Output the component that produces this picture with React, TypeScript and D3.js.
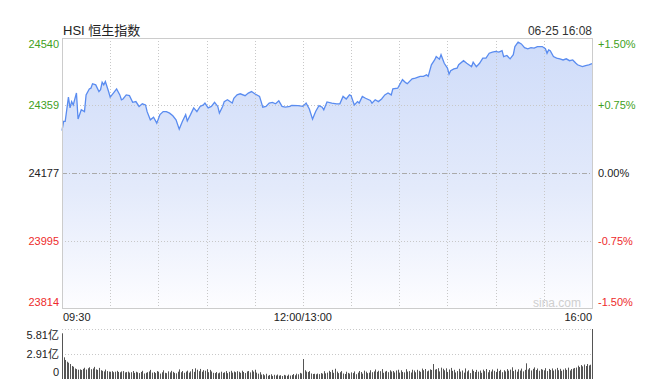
import React from "react";
import * as d3 from "d3";

// ---- data ----
const title = "HSI 恒生指数";
const stamp = "06-25 16:08";
const priceTicks = [24540, 24359, 24177, 23995, 23814];
const priceTickLabels = ["24540", "24359", "24177", "23995", "23814"];
const pctTickLabels = ["+1.50%", "+0.75%", "0.00%", "-0.75%", "-1.50%"];
const prevClose = 24177;
const timeTicks = [0, 150, 330];
const timeTickLabels = ["09:30", "12:00/13:00", "16:00"];
const gridMinutes = [30, 60, 90, 120, 150, 180, 210, 240, 270, 300];
const volTicks = [5.81, 2.91, 0];
const volTickLabels = ["5.81亿", "2.91亿", "0"];

// minutes since 09:30 (trading time, lunch removed)
const times = [
  0, 1, 2, 4, 5, 6, 7, 9, 10, 12,
  14, 15, 17, 18, 19, 21, 23, 24, 25, 26,
  27, 29, 30, 32, 34, 36, 37, 38, 40, 42,
  44, 46, 48, 50, 52, 53, 55, 57, 59, 61,
  63, 65, 67, 69, 71, 73, 75, 77, 78, 80,
  82, 84, 86, 88, 89, 91, 93, 95, 97, 98,
  100, 101, 103, 106, 107, 109, 111, 114, 116, 118,
  120, 123, 124, 125, 127, 129, 131, 133, 135, 137,
  139, 142, 143, 147, 150, 152, 154, 156, 158, 160,
  162, 163, 165, 168, 171, 173, 175, 177, 179, 180,
  182, 184, 185, 187, 189, 192, 193, 195, 197, 199,
  201, 203, 205, 206, 209, 212, 214, 215, 218, 220,
  223, 225, 227, 228, 230, 232, 233, 235, 236, 238,
  240, 241, 242, 244, 246, 247, 250, 252, 254, 255,
  256, 258, 260, 262, 264, 266, 268, 270, 272, 274,
  275, 277, 279, 281, 282, 284, 286, 288, 290, 292,
  294, 296, 299, 301, 302, 303, 304, 306, 308, 310,
  312, 314, 316, 318, 320, 321, 324, 326, 328, 330,
];
const prices = [
  24291, 24316, 24316, 24381, 24352, 24369, 24360, 24392, 24322, 24347,
  24342, 24387, 24403, 24405, 24417, 24414, 24396, 24401, 24421, 24414,
  24423, 24396, 24381, 24392, 24403, 24387, 24374, 24376, 24387, 24385,
  24367, 24369, 24356, 24363, 24360, 24342, 24320, 24327, 24311, 24334,
  24342, 24342, 24338, 24331, 24320, 24295, 24316, 24334, 24317, 24334,
  24352, 24342, 24356, 24360, 24365, 24352, 24356, 24367, 24356, 24338,
  24356, 24369, 24374, 24365, 24378, 24387, 24390, 24385, 24392, 24396,
  24390, 24383, 24369, 24354, 24356, 24365, 24367, 24363, 24371, 24356,
  24354, 24356, 24359, 24358, 24356, 24365, 24349, 24322, 24343, 24358,
  24354, 24347, 24368, 24365, 24363, 24363, 24383, 24376, 24387, 24385,
  24360, 24369, 24365, 24383, 24378, 24372, 24365, 24374, 24369, 24376,
  24387, 24392, 24387, 24403, 24405, 24428, 24420, 24417, 24430, 24432,
  24437, 24437, 24441, 24437, 24468, 24481, 24490, 24483, 24495, 24472,
  24459, 24443, 24452, 24457, 24459, 24468, 24479, 24472, 24466, 24463,
  24475, 24463, 24472, 24486, 24486, 24499, 24502, 24504, 24502, 24506,
  24490, 24493, 24484, 24495, 24517, 24529, 24524, 24514, 24511, 24514,
  24513, 24517, 24517, 24511, 24499, 24508, 24506, 24490, 24486, 24484,
  24481, 24484, 24479, 24481, 24472, 24468, 24463, 24466, 24468, 24471,
];

// volume per minute (亿), minute 0..330
const volumes = [
  5.31, 2.52, 2.21, 2.01, 1.89, 1.74, 1.51, 1.43, 1.22, 1.15,
  1.08, 1.12, 1.05, 1.18, 1.31, 1.10, 1.25, 1.36, 1.14, 1.22,
  1.41, 1.12, 1.06, 1.29, 1.02, 0.95, 0.88, 1.10, 0.92, 0.86,
  0.84, 0.91, 0.79, 0.85, 0.95, 0.82, 0.78, 0.88, 0.92, 0.76,
  0.81, 0.86, 0.74, 0.79, 0.93, 0.71, 0.84, 0.77, 0.69, 0.82,
  0.95, 0.64, 0.72, 0.79, 0.88, 1.06, 0.74, 0.81, 0.69, 0.92,
  0.85, 0.63, 0.78, 1.01, 0.72, 0.68, 0.89, 0.77, 0.95, 0.83,
  0.71, 0.66, 0.85, 1.12, 0.79, 0.93, 0.72, 0.86, 0.97, 0.74,
  0.89, 1.15, 0.83, 1.24, 1.08, 0.91, 1.17, 0.85, 1.03, 0.96,
  1.14, 0.79, 1.06, 0.88, 0.72, 0.69, 0.81, 0.66, 0.74, 0.85,
  0.71, 0.78, 0.92, 0.68, 0.83, 0.95, 0.74, 0.87, 0.79, 0.91,
  0.84, 0.72, 0.96, 0.81, 0.69, 0.88, 0.93, 0.77, 1.02, 0.86,
  1.08, 0.74, 0.62, 0.79, 0.51, 0.56, 0.43, 0.61, 0.38, 0.47,
  0.55, 0.36, 0.49, 0.41, 0.52, 0.39, 0.44, 0.35, 0.48, 0.42,
  0.37, 0.51, 0.40, 0.46, 0.58, 0.43, 0.62, 0.55, 0.71, 0.64,
  2.32, 1.02, 0.86, 0.81, 0.92, 0.64, 0.58, 0.61, 0.55, 0.63,
  0.57, 0.69, 0.62, 0.91, 0.66, 0.74, 0.95, 0.81, 1.06, 0.72,
  1.19, 0.86, 0.68, 0.79, 0.92, 0.64, 0.58, 0.85, 0.71, 0.63,
  0.77, 0.69, 0.88, 0.56, 0.74, 0.93, 0.81, 0.62, 0.97, 0.85,
  0.68, 0.74, 1.02, 0.79, 0.88, 1.11, 0.83, 0.96, 0.91, 1.15,
  0.72, 0.86, 0.94, 0.79, 1.01, 0.87, 0.93, 0.76, 0.99, 1.08,
  0.74, 1.01, 0.82, 0.77, 1.14, 0.86, 0.92, 0.75, 1.08, 0.99,
  0.78, 1.07, 0.95, 0.83, 1.21, 1.02, 1.16, 0.89, 0.98, 1.12,
  1.05, 1.74, 1.09, 1.15, 1.26, 0.88, 1.32, 1.19, 1.01, 1.24,
  0.82, 1.11, 1.29, 0.95, 1.07, 0.76, 0.92, 1.18, 0.86, 0.99,
  0.74, 1.23, 0.88, 1.01, 0.69, 1.12, 0.94, 0.81, 1.06, 0.85,
  0.98, 0.72, 1.09, 0.91, 1.16, 0.78, 1.04, 0.87, 1.11, 0.95,
  0.82, 1.19, 0.93, 1.07, 0.79, 1.02, 0.88, 1.15, 0.97, 1.09,
  1.36, 0.92, 1.08, 0.85, 1.13, 0.98, 1.21, 0.89, 1.06, 1.82,
  1.11, 1.27, 0.99, 1.18, 1.35, 1.04, 1.22, 0.96, 1.15, 1.08,
  1.01, 1.26, 0.92, 1.17, 1.05, 1.23, 0.98, 1.12, 1.29, 1.02,
  1.18, 0.95, 1.09, 1.24, 1.06, 1.32, 0.99, 1.16, 1.21, 1.28,
  1.33, 1.55, 1.39, 1.62, 1.47, 1.68, 1.51, 1.74, 1.58, 1.66,
  5.81,
];

const W = 661;
const H = 383;
const L = 62;
const R = 592;
const T = 38;
const B = 308;
const VT = 329;
const VB = 379;

const GREEN = "#3f9f23";
const RED = "#ee2b2b";
const FONT = "'Liberation Sans', Arial, 'Noto Sans CJK SC', sans-serif";

export default function App() {
  const x = d3.scaleLinear().domain([0, 330]).range([L, R]);
  const y = d3.scaleLinear().domain([23814, 24540]).range([B, T]);
  const vy = d3.scaleLinear().domain([0, 5.81]).range([VB, VT]);

  const pts = times.map((t, i) => ({ t, p: prices[i] }));
  const line = d3.line<any>().x((d) => x(d.t)).y((d) => y(d.p));
  const area = d3
    .area<any>()
    .x((d) => x(d.t))
    .y0(B)
    .y1((d) => y(d.p));

  const colorFor = (i: number) => (i < 2 ? GREEN : i === 2 ? "#222" : RED);
  const labelY = (v: number, i: number) =>
    y(v) + (i === 0 ? 6 : i === priceTicks.length - 1 ? -6 : 0);

  return (
    <svg
      width={W}
      height={H}
      style={{ position: "absolute", left: 0, top: 0, background: "#fff" }}
      fontFamily={FONT}
    >
      <defs>
        <linearGradient id="fillg" x1="0" y1="0" x2="0" y2="1">
          <stop offset="0%" stopColor="#cfdcf9" />
          <stop offset="55%" stopColor="#e3eafb" />
          <stop offset="100%" stopColor="#fdfdff" />
        </linearGradient>
      </defs>

      {/* title */}
      <text x={63} y={35} fontSize={13} fill="#222">
        {title}
      </text>
      <text x={592} y={35} fontSize={12} fill="#333" textAnchor="end">
        {stamp}
      </text>

      {/* area */}
      <path d={area(pts) || ""} fill="url(#fillg)" />

      {/* vertical grid */}
      {gridMinutes.map((m) => (
        <line
          key={"vg" + m}
          x1={Math.round(x(m)) + 0.5}
          x2={Math.round(x(m)) + 0.5}
          y1={T}
          y2={B}
          stroke="#c8c8c8"
          strokeDasharray="1,2"
        />
      ))}
      {/* horizontal grid */}
      {priceTicks.slice(1, 4).map((v, i) =>
        v === prevClose ? (
          <line
            key={"hg" + i}
            x1={L}
            x2={R}
            y1={Math.round(y(v)) + 0.5}
            y2={Math.round(y(v)) + 0.5}
            stroke="#aaa"
            strokeDasharray="5,2,1,2"
          />
        ) : (
          <line
            key={"hg" + i}
            x1={L}
            x2={R}
            y1={Math.round(y(v)) + 0.5}
            y2={Math.round(y(v)) + 0.5}
            stroke="#c8c8c8"
            strokeDasharray="1,2"
          />
        )
      )}

      <path d={line(pts) || ""} fill="none" stroke="#5a8cf0" strokeWidth={1.3} />

      {/* border */}
      <rect x={L + 0.5} y={T + 0.5} width={R - L} height={B - T} fill="none" stroke="#ccc" />

      {/* watermark */}
      <text x={581} y={307} fontSize={12} fill="#cfcfcf" textAnchor="end">
        sina.com
      </text>

      {/* left labels */}
      {priceTicks.map((v, i) => (
        <text
          key={"pl" + i}
          x={59}
          y={labelY(v, i)}
          dy="0.35em"
          fontSize={11}
          textAnchor="end"
          fill={colorFor(i)}
        >
          {priceTickLabels[i]}
        </text>
      ))}
      {/* right labels */}
      {priceTicks.map((v, i) => (
        <text
          key={"pr" + i}
          x={598}
          y={labelY(v, i)}
          dy="0.35em"
          fontSize={11}
          textAnchor="start"
          fill={colorFor(i)}
        >
          {pctTickLabels[i]}
        </text>
      ))}

      {/* time labels */}
      {timeTicks.map((m, i) => (
        <text
          key={"tl" + i}
          x={i === 0 ? x(m) + 1 : x(m)}
          y={321}
          fontSize={11}
          fill="#222"
          textAnchor={i === 0 ? "start" : i === 1 ? "middle" : "end"}
        >
          {timeTickLabels[i]}
        </text>
      ))}

      {/* volume grid */}
      {volTicks.slice(0, 2).map((v, i) => (
        <line
          key={"vgl" + i}
          x1={L}
          x2={R}
          y1={Math.round(vy(v)) + 0.5}
          y2={Math.round(vy(v)) + 0.5}
          stroke="#c8c8c8"
          strokeDasharray="1,2"
        />
      ))}
      {volumes.map((v, i) => (
        <rect
          key={"vb" + i}
          x={Math.round(x(i))}
          y={vy(v)}
          width={1}
          height={VB - vy(v)}
          fill="#555"
        />
      ))}
      {volTicks.map((v, i) => (
        <text
          key={"vl" + i}
          x={59}
          y={vy(v) + (i === 0 ? 6 : i === 2 ? -7 : 0)}
          dy="0.35em"
          fontSize={11}
          textAnchor="end"
          fill="#222"
        >
          {volTickLabels[i]}
        </text>
      ))}
    </svg>
  );
}
